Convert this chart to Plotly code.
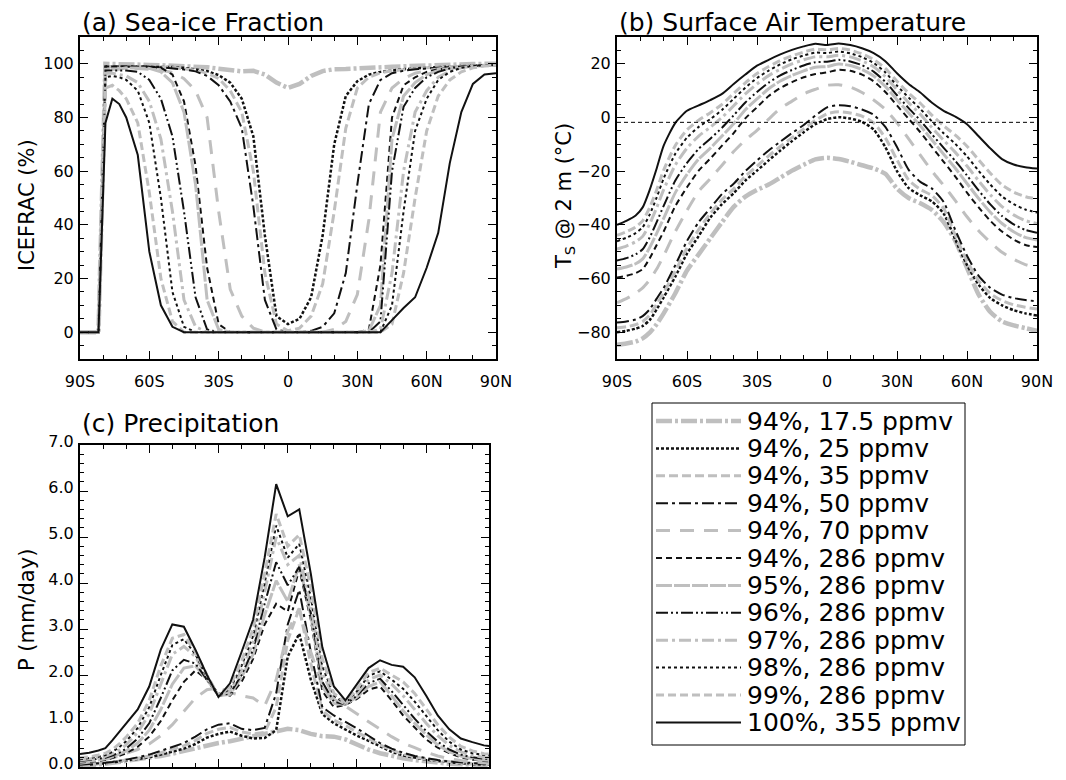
import plotly.graph_objects as go

# ---------------- data ----------------
LAT = [-90, -86, -82, -79, -76, -73, -70, -65, -60, -55, -50, -45, -40, -35, -30, -25, -20, -15, -10, -5,
       0, 5, 10, 15, 20, 25, 30, 35, 40, 45, 50, 55, 60, 65, 70, 75, 80, 85, 90]

LABELS = ["94%, 17.5 ppmv", "94%, 25 ppmv", "94%, 35 ppmv", "94%, 50 ppmv", "94%, 70 ppmv",
          "94%, 286 ppmv", "95%, 286 ppmv", "96%, 286 ppmv", "97%, 286 ppmv", "98%, 286 ppmv",
          "99%, 286 ppmv", "100%, 355 ppmv"]

X_TICK_VALUES = [-90, -60, -30, 0, 30, 60, 90]
X_TICK_TEXT = ["90S", "60S", "30S", "0", "30N", "60N", "90N"]
FREEZE_LINE = -1.8

# (a) sea-ice fraction (%)
ICE_175 = [0,0,0,100,100,99.8,99.7,99.7,99.6,99.5,99.4,99.2,99,98.7,98.2,97.6,97.2,97.4,96,93,91,92.5,95.5,97.3,98,98.1,98.2,98.4,98.6,98.9,99.1,99.3,99.5,99.6,99.7,99.8,99.9,100,100]
ICE_25 = [0,0,0,99,99,99,99,99,99,98.9,98.8,98.5,98,97.3,95.8,93,87,73,36,6,3,5,13,36,70,88,93.5,96,97,97.6,98,98.3,98.6,98.8,99,99.2,99.3,99.4,99.5]
ICE_35 = [0,0,0,99,99,99,99,99,99,98.8,98.6,98.2,97.6,96.5,94.5,90,82,60,22,3,0.5,1.5,6,18,45,76,91,95,96.7,97.4,97.9,98.2,98.5,98.8,99,99.2,99.3,99.4,99.5]
ICE_50 = [0,0,0,99,99,99,99,99,98.9,98.7,98.4,97.9,97.2,95.5,92,86,76,47,12,1,0,0,0.5,2,7,22,55,85,94,96.5,97.4,98,98.3,98.6,98.8,99,99.2,99.4,99.5]
ICE_70 = [0,0,0,98.5,98.5,98.5,98.5,98.3,98,97.6,96.8,94.5,90,80,45,16,6,1.5,0,0,0,0,0,0,1,4,14,42,82,91,94.5,96.5,97.5,98.2,98.7,99,99.3,99.5,99.6]
ICE_94 = [0,0,0,99,99,99,99,99,99,98.5,96,86,62,24,3,0,0,0,0,0,0,0,0,0,0,0,0,1,25,80,92,95,97,98,98.5,99,99.3,99.5,99.6]
ICE_95 = [0,0,0,98,98,98,98.5,98.5,98.3,97,93,82,55,12,1,0,0,0,0,0,0,0,0,0,0,0,0,0.5,10,72,88,93,96,97.5,98.3,98.8,99.2,99.4,99.5]
ICE_96 = [0,0,0,97.5,97.5,97.5,97.5,97,94,87,73,45,13,1,0,0,0,0,0,0,0,0,0,0,0,0,0,0,4,60,84,91,95,97,98.3,99,99.3,99.5,99.6]
ICE_97 = [0,0,0,96.5,96.5,96,95.5,93,86,72,45,12,2,0,0,0,0,0,0,0,0,0,0,0,0,0,0,0,1,22,60,82,90,95,97.3,98.5,99.2,99.5,99.6]
ICE_98 = [0,0,0,95,95.5,95,94,90,78,50,15,2,0,0,0,0,0,0,0,0,0,0,0,0,0,0,0,0,0,10,45,75,87,94,97,98.5,99.2,99.5,99.6]
ICE_99 = [0,0,0,91,92,90,87,78,52,20,4,0,0,0,0,0,0,0,0,0,0,0,0,0,0,0,0,0,0,3,22,50,75,88,94,97,98.5,99.2,99.5]
ICE_100 = [0,0,0,78,87,85,80,66,30,10,2,0,0,0,0,0,0,0,0,0,0,0,0,0,0,0,0,0,0,4.5,9,13,24,37,63,82,92.5,96,96.5]

# (b) surface air temperature (deg C)
TS_175 = [-84.7,-84.2,-83.5,-82.3,-80.2,-77,-73,-65.5,-57,-51,-45,-39,-33.3,-29.5,-27,-25,-22.4,-19.8,-17.6,-15.6,-15,-15.5,-16.5,-17.8,-19,-21,-26.5,-30,-32,-34.5,-39,-46,-56,-66,-72.5,-76,-77.5,-78.5,-79.5]
TS_25 = [-80,-79.5,-78.7,-77.7,-75.5,-71.5,-67,-59.3,-50.7,-44.2,-37.3,-32.3,-28.2,-23.5,-19.8,-16,-12.3,-8.8,-5.5,-2.5,-0.6,0.1,-0.4,-1.6,-4.5,-11,-20,-26.3,-29,-31.3,-35.8,-45.5,-55,-62.3,-67.3,-70,-71.8,-73,-73.8]
TS_35 = [-78.4,-78,-77.2,-76,-73.6,-69.6,-65.3,-57.3,-48.6,-41.8,-35.8,-30.6,-26.6,-21.9,-18.1,-14.3,-10.8,-7.5,-4.3,-1.1,1.4,2.1,1.7,0.5,-2,-7.6,-15.8,-23.3,-26.8,-29.1,-33.9,-44,-53.5,-60.9,-65.6,-68.2,-69.8,-70.7,-71.4]
TS_50 = [-76.4,-76,-75.3,-74,-71.5,-67.5,-63.5,-55,-46,-39,-33.8,-28.5,-24.7,-20,-16,-12.3,-9,-5.8,-2.8,0.7,3.8,4.6,4.2,3,1,-3.5,-11,-19.5,-24,-26.5,-31.5,-42,-51.5,-59,-63.5,-66,-67.3,-68,-68.5]
TS_70 = [-69,-67.5,-65.5,-63.5,-60.5,-56.5,-51.5,-42.5,-34.6,-27.5,-22.8,-17.8,-12.7,-8.4,-4.8,-0.6,3.4,6.1,8.8,10.5,12,12.2,11.3,9.3,6.5,3,-2,-8,-14,-20,-25.3,-31,-37,-42.2,-46.5,-50.2,-52.8,-54.8,-56]
TS_94 = [-59.6,-59,-58,-56.5,-52.5,-47.5,-42.5,-33,-26,-19.8,-15.3,-10.5,-5.8,-0.3,3.8,8,11,13.2,15,16.2,16.8,17.8,17.4,16,13.5,9.5,4.5,-0.5,-5.5,-11,-16.5,-22,-28,-33.5,-38.5,-42.5,-45.5,-47.5,-48.3]
TS_95 = [-56.5,-55.7,-54.5,-52.7,-48.5,-43.2,-37.6,-28,-21.2,-15.5,-11.4,-6.9,-2.3,2.9,6.9,10.7,13.6,15.7,17.4,18.7,19,19.9,19.4,17.9,15.5,11.6,6.6,1.7,-3.1,-8.4,-13.7,-18.9,-24.6,-30.2,-35.3,-39.5,-42.6,-44.7,-45.7]
TS_96 = [-53.3,-52.4,-51,-49.1,-44.7,-39,-32.9,-23.5,-16.9,-11.7,-7.9,-3.8,0.8,5.6,9.5,13,15.7,17.7,19.4,20.6,20.8,21.5,20.9,19.5,17.1,13.3,8.3,3.5,-1.1,-6.3,-11.3,-16.2,-21.6,-27.2,-32.4,-36.7,-39.8,-41.9,-43]
TS_97 = [-49,-47.9,-46.3,-44.3,-39.7,-33.6,-26.9,-17.7,-11.4,-6.9,-3.6,0,4.4,8.8,12.5,15.6,18,20,21.5,22.6,22.6,23.2,22.6,21.1,18.9,15.2,10.3,5.5,1.2,-3.8,-8.5,-13,-18.1,-23.6,-28.8,-33.2,-36.3,-38.4,-39.5]
TS_98 = [-46.1,-44.8,-43.1,-40.9,-36.2,-29.8,-22.7,-13.5,-7.5,-3.5,-0.6,2.8,7,11.1,14.7,17.5,19.8,21.7,23.1,24.2,24,24.6,23.9,22.5,20.3,16.8,11.9,7.4,3.2,-1.5,-5.9,-9.8,-14.5,-19.9,-25,-29.4,-32.3,-34.3,-35.4]
TS_99 = [-43.9,-42.6,-40.8,-38.5,-33.6,-27,-19.6,-10.4,-4.6,-1,1.8,4.9,9,12.9,16.4,19,21.2,23,24.4,25.5,25.2,25.7,25.1,23.7,21.6,18.3,13.5,9.1,5.3,0.8,-3.1,-6.6,-10.7,-15.8,-20.8,-25.1,-27.8,-29.5,-30.4]
TS_100 = [-40,-38.5,-36.5,-33.5,-27,-19,-10.5,-2,2.5,4.5,6.5,8.8,12.5,16,19.3,21.5,23.5,25.2,26.5,27.5,27,27.6,27,25.8,24,21,16.5,12.5,9.3,5.5,2.5,0.3,-2.5,-7,-11.5,-15.5,-17.5,-18.5,-19]

# (c) precipitation (mm/day)
P_175 = [0.02,0.03,0.05,0.07,0.09,0.11,0.13,0.16,0.2,0.24,0.29,0.35,0.41,0.47,0.52,0.56,0.61,0.66,0.71,0.76,0.83,0.8,0.72,0.67,0.66,0.6,0.48,0.38,0.3,0.24,0.19,0.15,0.12,0.09,0.07,0.06,0.05,0.04,0.04]
P_25 = [0.04,0.05,0.06,0.08,0.1,0.12,0.14,0.17,0.21,0.27,0.33,0.4,0.5,0.64,0.72,0.77,0.68,0.62,0.63,0.8,2.4,2.9,1.9,1.15,0.95,0.82,0.68,0.57,0.45,0.33,0.25,0.2,0.16,0.13,0.1,0.08,0.06,0.05,0.05]
P_35 = [0.04,0.05,0.06,0.08,0.1,0.12,0.15,0.19,0.24,0.31,0.38,0.46,0.58,0.73,0.82,0.86,0.76,0.72,0.75,1.3,2.75,3.45,2.25,1.22,1.02,0.9,0.76,0.62,0.48,0.37,0.28,0.22,0.17,0.14,0.11,0.09,0.07,0.06,0.06]
P_50 = [0.05,0.06,0.07,0.09,0.11,0.13,0.16,0.21,0.27,0.35,0.43,0.52,0.66,0.82,0.92,0.95,0.83,0.8,0.85,1.6,3.1,3.85,2.5,1.3,1.12,0.98,0.84,0.68,0.52,0.4,0.31,0.24,0.19,0.15,0.12,0.1,0.08,0.07,0.07]
P_70 = [0.08,0.1,0.13,0.16,0.2,0.24,0.3,0.38,0.5,0.68,0.92,1.2,1.5,1.68,1.72,1.62,1.55,1.5,1.33,1.9,2.95,3.45,2.5,1.75,1.48,1.32,1.15,0.98,0.82,0.66,0.52,0.42,0.32,0.24,0.18,0.14,0.11,0.09,0.08]
P_94 = [0.1,0.11,0.13,0.15,0.19,0.24,0.3,0.44,0.66,1.0,1.45,1.85,2.1,1.9,1.6,1.55,1.85,2.35,3.1,3.55,3.38,4.3,3.2,1.65,1.3,1.35,1.48,1.68,1.75,1.45,1.12,0.85,0.6,0.42,0.3,0.21,0.16,0.13,0.12]
P_95 = [0.12,0.13,0.15,0.18,0.22,0.28,0.35,0.52,0.8,1.25,1.8,2.15,2.2,1.9,1.55,1.58,1.95,2.45,3.3,4.05,3.6,4.4,3.3,1.75,1.38,1.36,1.52,1.75,1.85,1.55,1.22,0.95,0.7,0.48,0.33,0.24,0.18,0.15,0.14]
P_96 = [0.13,0.15,0.17,0.2,0.25,0.31,0.4,0.62,0.95,1.5,2.1,2.33,2.25,1.9,1.55,1.6,2.0,2.55,3.55,4.45,3.95,4.35,3.35,1.85,1.42,1.36,1.55,1.82,1.92,1.65,1.35,1.05,0.78,0.55,0.38,0.27,0.21,0.18,0.17]
P_97 = [0.15,0.17,0.2,0.23,0.29,0.37,0.48,0.75,1.15,1.8,2.45,2.62,2.4,1.95,1.55,1.65,2.1,2.7,3.8,5.0,4.4,4.6,3.5,2.05,1.5,1.37,1.6,1.9,2.0,1.8,1.55,1.25,0.95,0.68,0.47,0.33,0.25,0.21,0.2]
P_98 = [0.17,0.19,0.22,0.26,0.33,0.43,0.56,0.85,1.3,2.0,2.65,2.78,2.45,1.95,1.55,1.7,2.2,2.85,4.0,5.25,4.55,4.85,3.7,2.2,1.55,1.38,1.65,1.98,2.08,1.9,1.7,1.42,1.1,0.8,0.55,0.38,0.3,0.26,0.25]
P_99 = [0.2,0.22,0.26,0.3,0.38,0.5,0.65,0.95,1.45,2.2,2.8,2.88,2.5,2.0,1.55,1.75,2.3,3.0,4.2,5.5,4.8,5.05,3.9,2.35,1.6,1.4,1.7,2.05,2.15,2.0,1.85,1.6,1.25,0.92,0.65,0.45,0.35,0.29,0.27]
P_100 = [0.28,0.31,0.36,0.41,0.58,0.77,0.95,1.25,1.75,2.55,3.1,3.05,2.55,2.0,1.52,1.82,2.5,3.2,4.55,6.15,5.45,5.6,4.2,2.6,1.75,1.45,1.8,2.15,2.32,2.22,2.18,1.95,1.55,1.12,0.82,0.62,0.54,0.47,0.44]

ICE = [ICE_175, ICE_25, ICE_35, ICE_50, ICE_70, ICE_94, ICE_95, ICE_96, ICE_97, ICE_98, ICE_99, ICE_100]
TS = [TS_175, TS_25, TS_35, TS_50, TS_70, TS_94, TS_95, TS_96, TS_97, TS_98, TS_99, TS_100]
PR = [P_175, P_25, P_35, P_50, P_70, P_94, P_95, P_96, P_97, P_98, P_99, P_100]

# ---------------- styles ----------------
GRAY = "#bfbfbf"
BLACK = "#111111"
STYLES = [
    dict(color=GRAY, width=4.5, dash="16px,3px,3px,3px"),
    dict(color=BLACK, width=2.5, dash="3px,2px"),
    dict(color=GRAY, width=3, dash="9px,4px"),
    dict(color=BLACK, width=2, dash="12px,4px,3px,4px"),
    dict(color=GRAY, width=3, dash="14px,10px"),
    dict(color=BLACK, width=2, dash="6px,4px"),
    dict(color=GRAY, width=3, dash="16px,2px"),
    dict(color=BLACK, width=2, dash="12px,3px,2px,3px,2px,3px"),
    dict(color=GRAY, width=3, dash="12px,4px,3px,4px"),
    dict(color=BLACK, width=2, dash="3px,3px"),
    dict(color=GRAY, width=3, dash="8px,4px"),
    dict(color=BLACK, width=2, dash="solid"),
]

FONT = "DejaVu Sans"
PAGE_OFFSET = 8          # default body margin of the html page
W, H = 1066 - 2 * PAGE_OFFSET, 780 - 2 * PAGE_OFFSET


def px_x(p):
    return (p - PAGE_OFFSET) / W


def px_y(p):
    return 1 - (p - PAGE_OFFSET) / H


fig = go.Figure()
panels = [("x", "y", ICE, "linear"), ("x2", "y2", TS, "spline"), ("x3", "y3", PR, "linear")]
for pi, (xa, ya, data, shape) in enumerate(panels):
    for i, vals in enumerate(data):
        st = STYLES[i]
        line = dict(color=st["color"], width=st["width"], dash=st["dash"], shape=shape)
        if shape == "spline":
            line["smoothing"] = 0.6
        fig.add_trace(go.Scatter(
            x=LAT, y=vals, xaxis=xa, yaxis=ya, mode="lines", line=line,
            name=LABELS[i], showlegend=False, hoverinfo="skip"))

common_axis = dict(showline=True, linewidth=2, linecolor="black", mirror="ticks",
                   ticks="inside", ticklen=8, tickwidth=1.3, tickcolor="black",
                   showgrid=False, zeroline=False, ticklabeloverflow="allow",
                   tickfont=dict(family=FONT, size=16, color="black"))

xminor = dict(tickmode="linear", tick0=-90, dtick=10, ticks="inside", ticklen=4,
              tickwidth=1, tickcolor="black")


def yminor(step):
    return dict(tickmode="linear", tick0=0, dtick=step, ticks="inside", ticklen=4,
                tickwidth=1, tickcolor="black")


fig.update_layout(
    width=W, height=H, margin=dict(l=0, r=0, t=0, b=0, autoexpand=False),
    paper_bgcolor="white", plot_bgcolor="white",
    font=dict(family=FONT, color="black"),
    showlegend=False,
    xaxis=dict(common_axis, domain=[px_x(80), px_x(496)], range=[-90, 90], anchor="y",
               tickmode="array", tickvals=X_TICK_VALUES, ticktext=X_TICK_TEXT,
               ticklabelstandoff=7, minor=xminor),
    yaxis=dict(common_axis, domain=[px_y(359), px_y(37)], range=[-10, 110], anchor="x",
               tickmode="linear", tick0=0, dtick=20, ticklabelstandoff=1, minor=yminor(5)),
    xaxis2=dict(common_axis, domain=[px_x(617), px_x(1037)], range=[-90, 90], anchor="y2",
                tickmode="array", tickvals=X_TICK_VALUES, ticktext=X_TICK_TEXT,
                ticklabelstandoff=7, minor=xminor),
    yaxis2=dict(common_axis, domain=[px_y(359), px_y(37)], range=[-90, 30], anchor="x2",
                tickmode="linear", tick0=0, dtick=20, ticklabelstandoff=1, minor=yminor(5)),
    xaxis3=dict(common_axis, domain=[px_x(80), px_x(489)], range=[-90, 87.2], anchor="y3",
                tickmode="array", tickvals=X_TICK_VALUES, ticktext=X_TICK_TEXT,
                showticklabels=False, minor=xminor),
    yaxis3=dict(common_axis, domain=[px_y(767), px_y(445)], range=[0, 7], anchor="x3",
                tickmode="linear", tick0=0, dtick=1, tickformat=".1f", ticklabelstandoff=1,
                ticklabelshift=-4, minor=yminor(0.2)),
)

# freezing-point reference line in panel (b)
fig.add_shape(type="line", xref="x2", yref="y2", x0=-90, x1=90, y0=FREEZE_LINE, y1=FREEZE_LINE,
              line=dict(color="black", width=1, dash="4px,3px"))

# panel titles
titles = [("(a) Sea-ice Fraction", 80, 23), ("(b) Surface Air Temperature", 617, 23),
          ("(c) Precipitation", 80, 423)]
for txt, xp, yp in titles:
    fig.add_annotation(text=txt, x=px_x(xp), y=px_y(yp), xref="paper", yref="paper",
                       xanchor="left", yanchor="middle", showarrow=False,
                       font=dict(family=FONT, size=25, color="black"))

# y-axis titles
ytitles = [("ICEFRAC (%)", 27, 205), ("T<sub>S</sub> @ 2 m (°C)", 565, 196), ("P (mm/day)", 27, 610)]
for txt, xp, yp in ytitles:
    fig.add_annotation(text=txt, x=px_x(xp), y=px_y(yp), xref="paper", yref="paper",
                       xanchor="center", yanchor="middle", showarrow=False, textangle=-90,
                       font=dict(family=FONT, size=21, color="black"))

# legend box (drawn as a panel of line samples and labels)
LEG_LEFT, LEG_TOP, LEG_RIGHT, LEG_BOTTOM = 652, 403, 965, 745
ROW0, ROW_STEP = 421, 27.4
SAMPLE_X0, SAMPLE_X1, TEXT_X = 656, 741, 745
fig.add_shape(type="rect", xref="paper", yref="paper",
              x0=px_x(LEG_LEFT), x1=px_x(LEG_RIGHT), y0=px_y(LEG_BOTTOM), y1=px_y(LEG_TOP),
              line=dict(color="black", width=1), fillcolor="white", layer="below")
for i, lab in enumerate(LABELS):
    yc = ROW0 + ROW_STEP * i
    st = STYLES[i]
    fig.add_shape(type="line", xref="paper", yref="paper",
                  x0=px_x(SAMPLE_X0), x1=px_x(SAMPLE_X1), y0=px_y(yc), y1=px_y(yc),
                  line=dict(color=st["color"], width=st["width"], dash=st["dash"]))
    fig.add_annotation(text=lab, x=px_x(TEXT_X), y=px_y(yc), xref="paper", yref="paper",
                       xanchor="left", yanchor="middle", showarrow=False,
                       font=dict(family=FONT, size=25, color="black"))

fig.write_html("out.html")
